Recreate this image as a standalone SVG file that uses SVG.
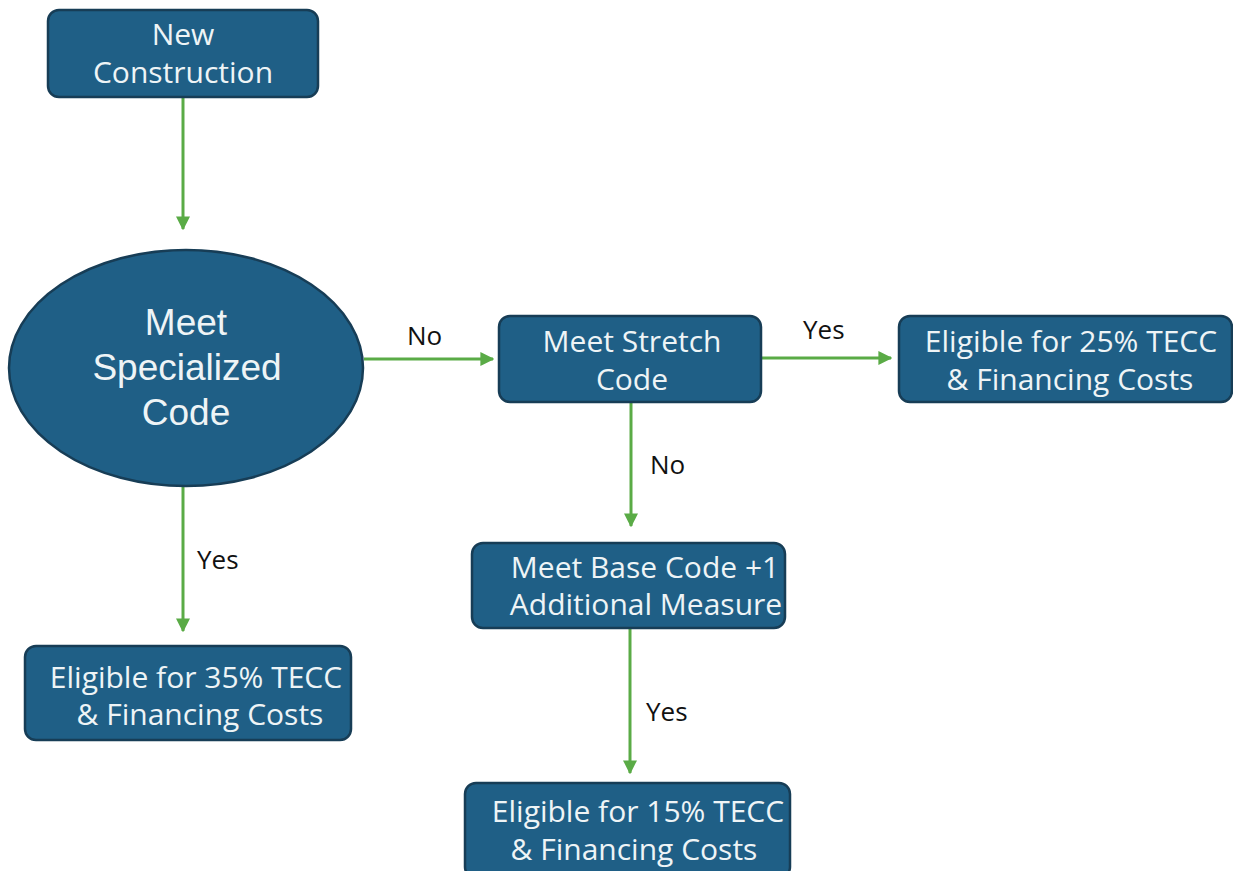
<svg xmlns="http://www.w3.org/2000/svg" width="1233" height="871" viewBox="0 0 1233 871">
<defs>
<marker id="ah" viewBox="0 0 10 10" refX="9" refY="5" markerWidth="14" markerHeight="14" markerUnits="userSpaceOnUse" orient="auto"><path d="M0,0 L10,5 L0,10 z" fill="#5aab46"/></marker>
<style>
.box{fill:#1f5f86;stroke:#173d56;stroke-width:2.5}
.t{font-family:"Open Sans","Liberation Sans",sans-serif;fill:#eef4f6;font-size:30px;text-anchor:middle}
.tb{font-family:"Liberation Sans",Arial,sans-serif;fill:#eef4f6;font-size:37px;text-anchor:middle}
.lbl{font-family:"Open Sans","Liberation Sans",sans-serif;fill:#111;font-size:26px}
.c{stroke:#5aab46;stroke-width:3;fill:none;marker-end:url(#ah)}
</style>
</defs>
<rect width="1233" height="871" fill="#ffffff"/>
<g id="connectors">
<line class="c" x1="183" y1="97" x2="183" y2="229"/>
<line class="c" x1="364" y1="359" x2="493" y2="359"/>
<line class="c" x1="761" y1="358" x2="891" y2="358"/>
<line class="c" x1="631" y1="402" x2="631" y2="526"/>
<line class="c" x1="183" y1="486" x2="183" y2="631"/>
<line class="c" x1="630" y1="628" x2="630" y2="773"/>
<text class="lbl" x="407" y="345">No</text>
<text class="lbl" x="803" y="339">Yes</text>
<text class="lbl" x="650" y="474">No</text>
<text class="lbl" x="197" y="569">Yes</text>
<text class="lbl" x="646" y="721">Yes</text>
</g>
<g id="n-new">
<rect class="box" x="48" y="10" width="270" height="87" rx="11"/>
<text class="t" x="183" y="45">New</text>
<text class="t" x="183" y="83">Construction</text>
</g>
<g id="n-special">
<ellipse class="box" cx="186" cy="368" rx="177" ry="118"/>
<text class="tb" x="186" y="335">Meet</text>
<text class="tb" x="187" y="380">Specialized</text>
<text class="tb" x="186" y="425">Code</text>
</g>
<g id="n-stretch">
<rect class="box" x="499" y="316" width="262" height="86" rx="11"/>
<text class="t" x="632" y="352">Meet Stretch</text>
<text class="t" x="632" y="390">Code</text>
</g>
<g id="n-25">
<rect class="box" x="899" y="316" width="333" height="86" rx="11"/>
<text class="t" x="1071" y="352">Eligible for 25% TECC</text>
<text class="t" x="1070" y="390">&amp; Financing Costs</text>
</g>
<g id="n-base">
<rect class="box" x="472" y="543" width="313" height="85" rx="11"/>
<text class="t" x="645" y="578">Meet Base Code +1</text>
<text class="t" x="646" y="615">Additional Measure</text>
</g>
<g id="n-35">
<rect class="box" x="25" y="646" width="326" height="94" rx="11"/>
<text class="t" x="196" y="688">Eligible for 35% TECC</text>
<text class="t" x="200" y="725">&amp; Financing Costs</text>
</g>
<g id="n-15">
<rect class="box" x="465" y="783" width="325" height="95" rx="11"/>
<text class="t" x="638" y="822">Eligible for 15% TECC</text>
<text class="t" x="634" y="860">&amp; Financing Costs</text>
</g>
</svg>
